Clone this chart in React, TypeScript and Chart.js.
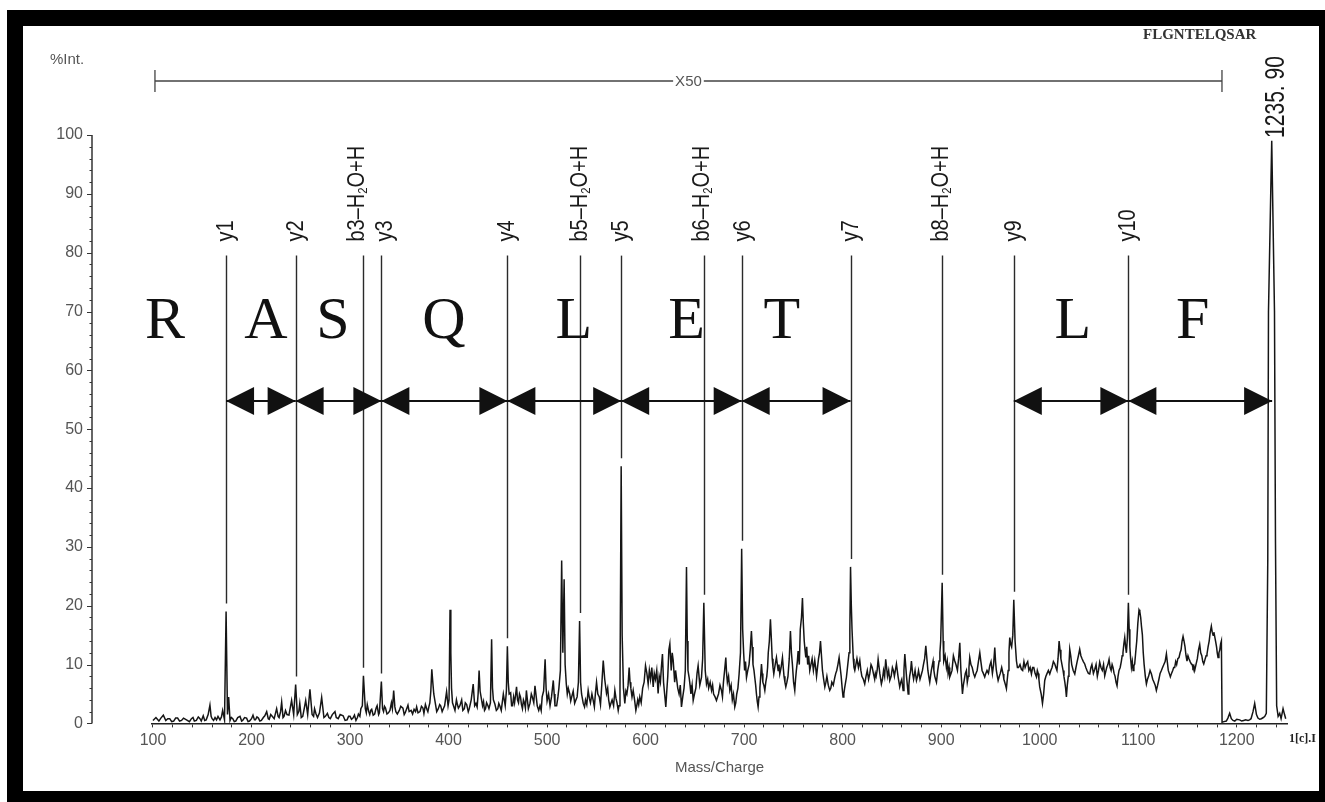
import React, { useEffect, useRef } from 'react';
import { Chart, registerables } from 'chart.js';

Chart.register(...registerables);

// ---------- spectrum (m/z, %intensity); 100–1185 is shown x50 ----------
const MZ_A = [
  100, 103, 106, 108, 110.5, 113, 115, 117, 119, 121,
  123, 125, 127, 129, 131, 134, 137, 139, 140.6, 142,
  144, 146, 147.7, 149, 151, 152.5, 154, 156, 157.8, 159,
  160, 161.5, 163, 164.5, 166, 168, 169.5, 170.7, 172.6, 174.2,
  175.6, 176.8, 178.2, 179.5, 181, 182.5, 184, 186, 188.3, 190,
  191, 193, 195, 196.5, 198, 200, 201.5, 203, 204, 205.5,
  207, 208.5, 210, 212, 213.5, 215.4, 217, 218, 219.5, 221,
  223, 225.5, 227, 228, 229.5, 230.6, 232, 233, 234.5, 236,
  238, 240.7, 242.8, 244.8, 246.5, 248, 249, 250.5, 252, 253.5,
  255, 257, 259.3, 261.5, 263, 264, 265.5, 267, 269, 271.2,
  273.5, 275, 277, 278.5, 280, 282, 284.7, 286, 288, 290,
  293, 295, 297, 298.5,
];
const INT_A = [
  0.5, 1.0, 0.4, 0.9, 1.4, 0.5, 0.8, 0.8, 0.3, 0.4,
  0.9, 0.9, 0.4, 0.5, 0.9, 0.6, 0.3, 0.8, 1.0, 0.4,
  0.5, 1.1, 0.8, 0.4, 1.3, 0.5, 0.6, 1.5, 3.1, 1.2,
  0.8, 0.5, 1.0, 0.6, 1.2, 0.6, 1.1, 2.2, 0.6, 19.0,
  1.5, 4.5, 0.5, 1.0, 0.8, 0.3, 0.4, 1.0, 1.2, 0.4,
  0.5, 1.0, 0.9, 0.3, 0.4, 0.8, 1.4, 0.6, 0.6, 1.1,
  0.9, 0.4, 0.5, 1.0, 1.3, 2.0, 0.8, 0.7, 1.5, 1.2,
  0.8, 2.5, 1.2, 1.0, 2.0, 3.6, 1.0, 1.2, 2.2, 1.5,
  1.4, 3.9, 1.5, 6.6, 1.5, 2.0, 3.4, 1.0, 1.2, 2.5,
  3.9, 1.5, 5.8, 1.5, 1.2, 2.5, 1.6, 1.0, 1.8, 4.4,
  1.0, 1.2, 1.7, 1.0, 0.8, 1.5, 2.0, 1.0, 0.8, 1.5,
  1.3, 0.5, 0.6, 1.2,
];

const MZ_B = [
  300, 301.5, 303, 304.5, 306, 307.5, 308.5, 310, 311, 312.5,
  313.6, 315.5, 316.5, 317.5, 319, 320, 321, 322, 323.5, 325,
  326.5, 327.5, 329, 329.8, 331.8, 333, 334, 335, 336, 337.5,
  339, 340.5, 342, 343, 344.3, 345.5, 346.5, 348, 350, 351.5,
  353.7, 355, 356, 357.5, 358.8, 360, 362, 363.5, 365, 366.5,
  367.6, 369, 371, 372.5, 374, 375, 376.5, 378, 379, 380,
  381, 382, 383, 384, 385, 386.5, 388, 389.6, 391, 392,
  393.5, 394.7, 396, 398, 399.5, 400.5, 401.5, 402.3, 403, 404,
  405, 406.5, 408, 409, 410, 411.5, 413.3, 414.5, 416, 417,
  418.4, 420, 421, 423, 425, 426.5, 427.8, 429, 430, 431,
  432, 433, 434.5, 435.5, 436.5, 437.5, 438.6, 440, 441, 442.5,
  443.7, 444.6, 445.5, 447, 448.5, 450,
];
const INT_B = [
  1.2, 0.7, 0.9, 1.4, 0.5, 1.0, 1.6, 1.2, 2.5, 3.0,
  8.1, 2.5, 1.8, 3.2, 2.0, 1.5, 2.2, 2.4, 1.4, 1.6,
  2.6, 3.0, 1.5, 1.8, 7.1, 2.5, 2.0, 2.9, 2.6, 1.6,
  1.8, 2.2, 3.5, 2.5, 5.6, 2.8, 2.0, 1.6, 2.2, 2.9,
  2.6, 1.5, 1.8, 2.5, 3.1, 2.0, 2.2, 1.6, 2.4, 2.0,
  2.8, 1.8, 2.0, 2.9, 2.6, 1.7, 3.2, 2.4, 2.0, 2.8,
  3.5, 5.5, 9.2, 7.0, 5.0, 3.5, 2.0, 2.5, 3.2, 3.0,
  2.0, 2.5, 3.0, 5.4, 3.0, 4.0, 19.3, 12.0, 6.0, 3.5,
  3.0, 2.2, 4.0, 3.2, 2.6, 3.0, 4.0, 2.2, 2.5, 3.5,
  3.2, 2.0, 2.5, 4.0, 6.7, 3.0, 3.4, 2.8, 5.0, 9.0,
  5.5, 4.5, 3.0, 3.7, 2.2, 2.5, 3.5, 3.0, 2.5, 3.5,
  14.3, 6.0, 4.0, 3.3, 2.2, 2.5,
];

const MZ_C = [
  451, 452, 453.5, 455.6, 457.5, 458.7, 459.7, 460.6, 461.5, 463,
  464, 465, 466, 467, 468, 469, 470, 471, 472, 473,
  474, 475, 476, 477, 478, 479, 480, 481, 482.6, 484,
  485, 486.5, 487.7, 489, 490, 491.5, 492.8, 494, 495, 496.5,
  498, 499, 500, 501.5, 503, 504.5, 506.3, 507.2, 508, 509.7,
  511, 512, 513.5, 514.8, 516, 517.3, 518.3, 519.5, 520.5, 521.5,
  523, 524, 525, 526.5, 528, 529.3, 530.5, 531.8, 533, 534,
  535, 536.7, 538, 539, 540.3, 541.7, 543, 544, 545.5, 546.8,
  548, 549, 550.2, 551.5, 553, 554.2, 555.5, 557, 558.5, 560.3,
  561.5, 562.5, 563.7, 565, 566, 567.5, 568.8, 570, 571, 572.2,
  573, 574, 575.2, 576.2, 577.5, 578.9, 580, 581, 582.2, 583.3,
  584.2, 585, 586.2, 587.4, 588.8, 590.1, 591, 592, 593, 594.1,
  595.5, 597, 598.5, 599.9,
];
const INT_C = [
  3.4, 3.0, 2.2, 5.0, 3.0, 5.5, 13.1, 7.0, 5.0, 5.2,
  3.0, 3.0, 4.5, 3.5, 4.8, 6.2, 4.0, 3.5, 5.0, 4.5,
  3.2, 2.5, 4.0, 3.5, 2.6, 5.6, 4.0, 2.5, 3.4, 5.0,
  4.5, 3.5, 6.4, 4.5, 3.0, 2.2, 3.0, 2.2, 4.5, 5.5,
  10.9, 6.0, 3.8, 5.0, 3.0, 4.5, 7.3, 5.0, 3.0, 3.0,
  4.5, 6.0, 9.0, 27.7, 12.0, 24.5, 10.0, 6.7, 5.0, 6.0,
  5.0, 3.8, 4.5, 5.5, 3.4, 4.0, 4.5, 7.0, 17.4, 7.0,
  5.0, 3.4, 2.8, 4.0, 3.2, 5.6, 4.2, 3.5, 5.0, 3.9,
  2.8, 5.0, 7.0, 5.0, 4.5, 3.2, 6.5, 10.7, 7.5, 5.1,
  6.0, 4.0, 2.8, 3.5, 4.0, 3.0, 5.6, 4.2, 3.5, 2.2,
  3.0, 6.0, 43.7, 15.0, 6.0, 3.4, 5.5, 5.0, 6.5, 9.5,
  7.0, 6.0, 4.5, 5.6, 4.0, 2.2, 3.0, 4.0, 3.2, 4.5,
  3.5, 6.0, 7.0, 9.8,
];

const MZ_D = [
  601.3, 602.6, 603.8, 605, 606.3, 607.7, 608.8, 610, 611.3, 612.7,
  613.8, 615, 616, 617.1, 618.2, 619.3, 620.5, 621.5, 622.5, 623.6,
  624.6, 626, 627, 628, 629.5, 630.4, 631.3, 632.6, 634, 635.2,
  636.4, 637.7, 639, 640.3, 641.5, 642.3, 643, 644.2, 645.1, 646,
  647.2, 648.3, 649.6, 651, 652.2, 653.3, 655, 656.7, 657.9, 659.1,
  660.5, 661.8, 663, 664, 665.5, 666.9, 668, 669, 670.5, 671.9,
  673, 674, 675.5, 677, 678, 679, 680.2, 681.4, 682.2, 683,
  684.2, 685.5, 686.8, 688, 689.2, 690.5, 691.5, 692.5, 693.7, 694.9,
  696.3, 697.5, 698.5, 699.5, 700.5, 701.4, 702.4, 703.7, 705, 706.2,
  707.4, 708.2, 709, 710, 710.8, 711.7, 712.5, 713.3, 714.2, 715.1,
  716, 716.8, 717.6, 718.3, 719, 720, 721, 722, 723, 723.8,
  724.5, 725.6, 726.7, 727.6, 728.5, 729.3, 730.1, 731.5, 732.8, 733.7,
  734.5, 735.3, 736.2, 737.5, 738.9, 739.7, 740.5, 741.4, 742.3, 743.4,
  744.5, 745.8, 747, 748, 749,
];
const INT_D = [
  8.5, 6.7, 9.0, 7.5, 9.5, 6.2, 8.5, 7.5, 9.0, 5.1,
  8.0, 7.0, 9.5, 11.8, 7.0, 5.0, 2.8, 5.5, 8.0, 12.5,
  13.5, 9.0, 12.0, 10.7, 7.0, 9.0, 7.8, 6.0, 5.0, 6.5,
  2.8, 4.5, 6.0, 9.0, 26.6, 14.0, 9.0, 7.8, 6.5, 5.0,
  6.5, 3.9, 5.0, 6.0, 8.5, 9.8, 6.5, 7.8, 11.0, 20.5,
  9.0, 6.7, 7.5, 6.0, 7.0, 5.6, 6.5, 5.0, 4.5, 3.9,
  4.5, 5.0, 6.5, 5.6, 4.5, 7.0, 9.0, 11.2, 8.5, 7.0,
  8.0, 5.6, 6.5, 4.0, 5.0, 2.8, 3.5, 5.0, 6.0, 8.4,
  12.0, 29.7, 16.0, 12.0, 9.0, 10.5, 7.8, 9.0, 10.0, 12.5,
  15.7, 13.0, 10.0, 9.0, 7.8, 6.5, 5.0, 3.8, 2.8, 4.5,
  6.0, 8.0, 10.1, 8.5, 7.0, 6.5, 5.6, 7.0, 8.0, 9.5,
  12.0, 14.0, 17.7, 14.5, 11.0, 9.5, 8.4, 10.0, 11.2, 10.0,
  9.0, 10.0, 8.4, 9.5, 11.2, 9.5, 8.0, 7.0, 6.2, 7.0,
  8.0, 11.0, 15.7, 12.0, 10.0,
];

const MZ_E = [
  750.2, 751.4, 752.2, 753, 754, 754.8, 756, 757, 758.2, 759.2,
  760.1, 761, 761.8, 762.6, 763.5, 764.5, 765.5, 766.6, 767.8, 769,
  770.3, 771.7, 772.6, 773.5, 774.5, 775.5, 776.5, 777.5, 778.5, 779.5,
  780.7, 781.9, 783, 784, 785.4, 786.9, 788, 789, 790.5, 792,
  793, 794, 795.2, 796.4, 797.5, 798.5, 799.5, 800.4, 801.2, 802,
  803, 803.8, 805.2, 806.5, 807.3, 808, 808.8, 809.5, 810.8, 811.5,
  812.3, 813.4, 814.5, 816, 817.4, 818.5, 819.5, 821, 822.4, 823.7,
  825, 826.3, 827.5, 828.8, 830, 831.2, 832.5, 833.2, 834, 835,
  836, 837.7, 839.3, 840.4, 841.5, 842.6, 843.7, 844.6, 845.5, 846.7,
  847.8, 849.2, 850.5, 851.5, 852.5, 853.5, 854.6, 856.2, 857.9, 859,
  860, 861.4, 862.2, 863.1, 864.8, 866.5, 867.2, 868, 869, 869.8,
  871, 872, 873.5, 874.9, 876, 877, 878.5, 880, 881, 882,
  883.2, 884.4, 885.5, 886.5, 887.4, 888.4, 890, 891.8, 892.6, 893.5,
  894.3, 895.2, 896.5, 897.9, 898.7, 899.5,
];
const INT_E = [
  7.0, 5.6, 7.5, 9.0, 10.5, 12.3, 10.0, 16.0, 18.0, 21.3,
  17.0, 14.0, 12.5, 11.2, 13.0, 10.0, 11.5, 9.0, 10.0, 11.0,
  9.0, 10.7, 9.5, 8.0, 9.5, 11.0, 12.0, 14.0, 11.5, 9.0,
  7.5, 6.2, 7.0, 8.0, 6.5, 5.6, 6.0, 7.0, 6.5, 7.8,
  8.5, 9.0, 10.0, 11.2, 9.5, 8.0, 6.0, 4.5, 5.0, 6.0,
  7.0, 7.8, 10.0, 12.0, 16.0, 26.6, 20.0, 16.0, 11.0, 9.5,
  9.0, 10.0, 11.0, 9.5, 10.7, 9.0, 8.0, 7.5, 6.7, 8.0,
  9.0, 7.5, 8.4, 10.0, 9.5, 8.5, 7.5, 8.5, 8.0, 9.0,
  10.9, 8.5, 6.7, 7.5, 9.0, 8.0, 10.9, 9.5, 8.0, 9.0,
  7.3, 8.0, 9.5, 9.0, 8.0, 9.0, 10.1, 8.0, 6.2, 7.0,
  7.5, 5.6, 9.0, 11.8, 8.0, 5.0, 6.5, 8.0, 9.0, 10.6,
  8.5, 7.5, 9.0, 7.3, 8.0, 9.0, 7.5, 8.4, 9.0, 10.0,
  11.0, 13.2, 11.0, 9.0, 8.0, 7.0, 9.0, 10.6, 9.0, 8.0,
  7.5, 7.0, 9.0, 10.6, 12.0, 14.0,
];

const MZ_F = [
  901, 902, 902.6, 904, 905.3, 906.2, 907, 908, 908.7, 910,
  911, 912.4, 913.8, 915, 916.5, 917.7, 918.9, 920, 921.6, 922.5,
  923.5, 924.5, 925.6, 926.5, 927.5, 928.2, 929, 930.2, 931.5, 932.8,
  934.1, 935.3, 936.5, 937.8, 939.2, 940.3, 941.5, 942.8, 944.2, 945.3,
  946.5, 948, 949.3, 950.6, 952, 953.2, 954.4, 955.2, 956, 957,
  957.8, 959, 960, 961.4, 962.8, 963.6, 964.5, 965.3, 966.2, 967.1,
  968, 968.8, 969.6, 970.5, 971.5, 972.7, 973.7, 975, 976.4, 977.4,
  978.5, 980, 981.4, 982.7, 984, 985.2, 986.5, 987.8, 989, 990.3,
  991.6, 992.8, 994, 995.3, 996.7, 997.6, 998.5, 999.2, 1000, 1001.5,
  1002.8, 1004, 1005.1, 1006.3, 1007.5, 1008.8, 1010.2, 1011.3, 1012.5, 1013.9,
  1015.3, 1016.4, 1017.5, 1018.6, 1019.7, 1020.6, 1021.5, 1022.6, 1023.7, 1024.6,
  1025.5, 1026.3, 1027.1, 1028, 1029, 1029.7, 1030.5, 1031.5, 1032.5, 1034,
  1035.6, 1036.8, 1038, 1039.3, 1040.6, 1041.8, 1043, 1044.3, 1045.7, 1046.8,
  1048, 1049.4,
];
const INT_F = [
  23.9, 14.0, 10.6, 11.5, 9.5, 10.5, 8.5, 9.5, 7.9, 8.5,
  9.0, 11.5, 10.6, 10.0, 9.0, 11.0, 13.7, 9.0, 5.0, 6.5,
  7.5, 8.5, 9.0, 7.0, 8.0, 9.5, 11.2, 10.0, 9.5, 8.5,
  7.9, 8.5, 9.0, 10.5, 12.0, 10.5, 9.0, 8.5, 7.9, 8.5,
  9.0, 8.5, 9.8, 10.5, 8.5, 10.0, 12.9, 10.5, 9.0, 8.0,
  7.3, 8.0, 8.5, 9.5, 8.4, 7.5, 7.0, 6.5, 5.9, 7.5,
  9.0, 12.0, 14.6, 13.5, 13.0, 15.0, 21.0, 14.0, 10.6, 9.5,
  9.5, 10.0, 9.2, 9.0, 10.5, 9.5, 10.1, 10.5, 9.0, 9.5,
  8.4, 9.5, 9.5, 8.5, 7.9, 9.0, 8.5, 7.5, 6.2, 5.0,
  3.4, 5.0, 7.3, 8.0, 8.5, 9.0, 8.4, 9.0, 9.5, 10.5,
  10.1, 9.5, 9.0, 11.0, 14.0, 12.5, 11.0, 10.0, 9.0, 8.0,
  7.0, 6.0, 4.5, 6.5, 8.0, 10.0, 12.6, 11.5, 10.0, 9.0,
  8.4, 9.5, 10.5, 11.5, 12.6, 11.5, 11.0, 10.5, 10.1, 9.5,
  9.0, 8.5,
];

const MZ_G = [
  1050.8, 1052, 1053, 1054.5, 1055.9, 1057.2, 1058.5, 1059.7, 1060.9, 1062.2,
  1063.5, 1064.8, 1066, 1067, 1068, 1069.2, 1070.4, 1071.5, 1072.5, 1073.5,
  1074.4, 1075.5, 1076.5, 1077.5, 1078.5, 1079.5, 1080.5, 1081.7, 1082.9, 1083.7,
  1084.5, 1085.4, 1086.3, 1087.2, 1088, 1089, 1090, 1090.8, 1091.5, 1092.3,
  1093.1, 1094, 1094.8, 1095.6, 1096.4, 1097.4, 1098.5, 1099.6, 1100.8, 1101.6,
  1102.5, 1103.3, 1104.2, 1105.1, 1106, 1107.2, 1108.3, 1109.4, 1110.5, 1112,
  1113.4, 1114.7, 1116, 1117.2, 1118.4, 1119.7, 1121, 1122.2, 1123.5, 1124.7,
  1126, 1127.3, 1128.6, 1129.5, 1130.5, 1131.5, 1132.6, 1133.8, 1135, 1136,
  1137, 1138, 1139, 1140.2, 1141.4, 1142.5, 1143.5, 1144.5, 1145.5, 1146.5,
  1147.5, 1148.5, 1149.5, 1150.5, 1151.5, 1152.7, 1153.9, 1154.7, 1155.5, 1156.4,
  1157.3, 1158.6, 1160, 1161.2, 1162.4, 1163.4, 1164.5, 1165.5, 1166.5, 1167.2,
  1168, 1168.9, 1169.8, 1170.9, 1172, 1173.1, 1174.2, 1175.1, 1176, 1176.8,
  1177.6, 1178.5, 1179.5, 1180.2, 1181, 1181.9, 1182.8, 1183.6, 1184.4,
];
const INT_G = [
  8.4, 9.5, 10.0, 8.5, 9.2, 10.0, 8.0, 9.0, 10.4, 9.5,
  9.0, 10.0, 8.1, 8.8, 9.5, 10.0, 10.9, 9.5, 9.0, 10.0,
  9.5, 8.5, 8.0, 7.0, 6.4, 8.0, 9.0, 9.5, 10.6, 11.5,
  12.0, 13.5, 14.6, 13.0, 12.0, 14.5, 20.5, 16.0, 13.0, 11.0,
  9.5, 10.5, 9.0, 9.8, 10.1, 12.0, 14.0, 17.0, 19.3, 19.0,
  18.0, 16.5, 15.1, 12.0, 10.0, 8.0, 6.7, 7.5, 8.0, 9.0,
  8.4, 7.5, 7.0, 6.5, 5.6, 6.5, 7.5, 8.5, 9.0, 9.5,
  10.0, 10.5, 11.8, 10.5, 9.0, 8.5, 7.9, 8.5, 9.0, 9.5,
  9.5, 10.5, 10.0, 11.0, 11.2, 12.0, 12.5, 14.0, 14.8, 14.0,
  13.0, 11.5, 10.6, 11.5, 11.0, 10.5, 10.1, 10.0, 9.5, 9.8,
  9.0, 10.0, 11.0, 12.5, 13.4, 12.0, 11.5, 10.5, 10.1, 10.5,
  11.0, 11.5, 11.8, 13.0, 14.0, 15.5, 16.5, 15.5, 15.0, 15.5,
  14.8, 14.0, 13.0, 12.0, 11.2, 12.0, 12.5, 13.5, 14.0,
];

// unscaled region (x1) with the precursor
const MZ_H = [
  1185.1, 1187, 1189.4, 1191, 1192.8, 1194.5, 1196.2, 1198, 1200, 1203,
  1205, 1207, 1209, 1211.4, 1213, 1214.5, 1216.5, 1218.2, 1220, 1221.5,
  1223.3, 1225, 1227, 1228.5, 1230, 1231.5, 1232.2, 1235.5, 1238.3, 1239.3,
  1240.5, 1242, 1243.6, 1245, 1247, 1248.5, 1249.7,
];
const INT_H = [
  0.2, 0.3, 0.4, 0.9, 1.7, 0.8, 0.5, 0.4, 0.7, 0.6,
  0.4, 0.5, 0.6, 0.5, 0.6, 0.8, 2.0, 3.4, 1.5, 0.9,
  0.7, 0.8, 1.0, 1.2, 1.7, 28, 70, 99, 70, 31,
  3, 1.2, 1.7, 0.8, 2.5, 1.5, 0.8,
];

const MZ = [...MZ_A, ...MZ_B, ...MZ_C, ...MZ_D, ...MZ_E, ...MZ_F, ...MZ_G, ...MZ_H];
const INTENSITY = [...INT_A, ...INT_B, ...INT_C, ...INT_D, ...INT_E, ...INT_F, ...INT_G, ...INT_H];

// ---------- axes ----------
const X_MIN = 99;
const X_MAX = 1251;
const X_TICK_LABELS = [100, 200, 300, 400, 500, 600, 700, 800, 900, 1000, 1100, 1200];
const X_MINOR_STEP = 20;
const Y_TICK_LABELS = [0, 10, 20, 30, 40, 50, 60, 70, 80, 90, 100];
const Y_MINOR_STEP = 2;
const X_TITLE = 'Mass/Charge';
const Y_TITLE = '%Int.';

// ---------- annotations ----------
const ION_LABELS = ['y1', 'y2', 'b3–H₂O+H', 'y3', 'y4', 'b5–H₂O+H', 'y5', 'b6–H₂O+H', 'y6', 'y7', 'b8–H₂O+H', 'y9', 'y10'];
const ION_MZ = [174.2, 244.8, 313.6, 331.8, 459.7, 533, 575.2, 659.1, 697.5, 808, 901, 973.7, 1090];
const ION_LABEL_NUDGE = [0, 0, -6, 4, 0, 0, 0, -2, 1, 0, -1, 0, 0];
const PRECURSOR_MZ = 1235.9;
const PRECURSOR_LABEL = '1235. 90';
const RESIDUES = ['R', 'A', 'S', 'Q', 'L', 'E', 'T', 'L', 'F'];
const RESIDUE_MZ = [112.2, 214.7, 282.7, 395.3, 527.2, 641.5, 738.3, 1033.6, 1155.3];
// spans between ion indexes (-1 = precursor)
const ARROW_SPANS: [number, number][] = [[0, 1], [1, 3], [3, 4], [4, 6], [6, 8], [8, 9], [11, 12], [12, -1]];
const X50_RANGE = [102, 1185];
const X50_TEXT = 'X50';
const SEQUENCE = 'FLGNTELQSAR';
const CORNER_TEXT = '1[c].I';

const ANN_TOP = 79.5;
const ARROW_LEVEL = 54.8;
const RESIDUE_BASE = 65.5;

const SANS = '"Liberation Sans", Arial, Helvetica, sans-serif';
const SERIF = '"Liberation Serif", "Times New Roman", serif';

function peakAt(mz: number): number {
  let best = 0;
  for (let i = 0; i < MZ.length; i++) {
    if (Math.abs(MZ[i] - mz) <= 1.5) best = Math.max(best, INTENSITY[i]);
  }
  return best;
}

function drawRotatedLabel(ctx: CanvasRenderingContext2D, x: number, bottom: number, text: string, size: number, along: number) {
  ctx.save();
  ctx.translate(x, bottom);
  ctx.rotate(-Math.PI / 2);
  ctx.scale(along, 1);
  ctx.textAlign = 'left';
  ctx.textBaseline = 'middle';
  let cx = 0;
  const parts = text.split('₂');
  parts.forEach((p, i) => {
    ctx.font = `${size}px ${SANS}`;
    ctx.fillText(p, cx, 0);
    cx += ctx.measureText(p).width;
    if (i < parts.length - 1) {
      ctx.font = `${Math.round(size * 0.55)}px ${SANS}`;
      ctx.fillText('2', cx, size * 0.25);
      cx += ctx.measureText('2').width;
    }
  });
  ctx.restore();
}

const framePlugin = {
  id: 'frame',
  beforeDraw(chart: any) {
    const { ctx, width, height } = chart;
    ctx.save();
    ctx.fillStyle = '#ffffff';
    ctx.fillRect(0, 0, width, height);
    ctx.fillStyle = '#000000';
    ctx.fillRect(7, 10, width - 7, height - 10);
    ctx.fillStyle = '#ffffff';
    ctx.fillRect(23, 26, 1319 - 23, 791 - 26);
    ctx.restore();
  },
};

const annotationPlugin = {
  id: 'spectrumAnnotations',
  afterDraw(chart: any) {
    const ctx: CanvasRenderingContext2D = chart.ctx;
    const xs = chart.scales.x;
    const ys = chart.scales.y;
    const px = (v: number) => xs.getPixelForValue(v);
    const py = (v: number) => ys.getPixelForValue(v);
    ctx.save();

    // detached y axis
    const ax = 92;
    ctx.strokeStyle = '#333';
    ctx.lineWidth = 1.5;
    ctx.beginPath();
    ctx.moveTo(ax, py(0));
    ctx.lineTo(ax, py(100));
    ctx.stroke();
    ctx.lineWidth = 1;
    for (let v = 0; v <= 100; v += Y_MINOR_STEP) {
      const isMajor = Y_TICK_LABELS.includes(v);
      const len = isMajor ? 5 : 2.5;
      const y = Math.round(py(v)) + 0.5;
      ctx.beginPath();
      ctx.moveTo(ax - len, y);
      ctx.lineTo(ax, y);
      ctx.stroke();
    }

    // y title
    ctx.fillStyle = '#555';
    ctx.font = `15px ${SANS}`;
    ctx.textAlign = 'left';
    ctx.textBaseline = 'alphabetic';
    ctx.fillText(Y_TITLE, 50, 64);

    // sequence + corner text
    ctx.fillStyle = '#333';
    ctx.font = `bold 15px ${SERIF}`;
    ctx.fillText(SEQUENCE, 1143, 39);
    ctx.fillStyle = '#222';
    ctx.font = `bold 12px ${SERIF}`;
    ctx.fillText(CORNER_TEXT, 1289, 742);

    // X50 bracket
    const bx1 = px(X50_RANGE[0]);
    const bx2 = px(X50_RANGE[1]);
    const by = 81;
    ctx.strokeStyle = '#444';
    ctx.lineWidth = 1.3;
    ctx.beginPath();
    ctx.moveTo(bx1, by); ctx.lineTo(bx2, by);
    ctx.moveTo(bx1, by - 11); ctx.lineTo(bx1, by + 11);
    ctx.moveTo(bx2, by - 11); ctx.lineTo(bx2, by + 11);
    ctx.stroke();
    ctx.font = `15px ${SANS}`;
    const tw = ctx.measureText(X50_TEXT).width;
    const mid = (bx1 + bx2) / 2;
    ctx.fillStyle = '#fff';
    ctx.fillRect(mid - tw / 2 - 2, by - 8, tw + 4, 16);
    ctx.fillStyle = '#555';
    ctx.textAlign = 'center';
    ctx.textBaseline = 'middle';
    ctx.fillText(X50_TEXT, mid, by + 1);

    // ion lines and labels
    const topY = py(ANN_TOP);
    ctx.strokeStyle = '#2a2a2a';
    ctx.lineWidth = 1.4;
    ION_MZ.forEach((mz, i) => {
      const x = Math.round(px(mz)) + 0.5;
      const peakY = py(peakAt(mz));
      ctx.beginPath();
      ctx.moveTo(x, topY);
      ctx.lineTo(x, Math.max(topY, peakY - 8));
      ctx.stroke();
      ctx.fillStyle = '#1a1a1a';
      drawRotatedLabel(ctx, x + ION_LABEL_NUDGE[i], topY - 14, ION_LABELS[i], 23, 0.87);
    });

    // precursor label
    const pX = px(PRECURSOR_MZ);
    const pTop = py(peakAt(PRECURSOR_MZ));
    ctx.fillStyle = '#1a1a1a';
    drawRotatedLabel(ctx, pX + 4, pTop - 3, PRECURSOR_LABEL, 28, 0.75);

    // arrows
    const ay = py(ARROW_LEVEL);
    const HL = 28;
    const HH = 14;
    ctx.fillStyle = '#111';
    ctx.strokeStyle = '#111';
    ctx.lineWidth = 2;
    ARROW_SPANS.forEach(([a, b]) => {
      const x1 = px(ION_MZ[a]);
      const x2 = px(b < 0 ? PRECURSOR_MZ : ION_MZ[b]);
      ctx.beginPath();
      ctx.moveTo(x1, ay); ctx.lineTo(x2, ay);
      ctx.stroke();
      ctx.beginPath();
      ctx.moveTo(x1, ay); ctx.lineTo(x1 + HL, ay - HH); ctx.lineTo(x1 + HL, ay + HH); ctx.closePath();
      ctx.fill();
      ctx.beginPath();
      ctx.moveTo(x2, ay); ctx.lineTo(x2 - HL, ay - HH); ctx.lineTo(x2 - HL, ay + HH); ctx.closePath();
      ctx.fill();
    });

    // residues
    ctx.fillStyle = '#111';
    ctx.font = `60px ${SERIF}`;
    ctx.textAlign = 'center';
    ctx.textBaseline = 'alphabetic';
    RESIDUES.forEach((r, i) => {
      ctx.fillText(r, px(RESIDUE_MZ[i]), py(RESIDUE_BASE));
    });

    ctx.restore();
  },
};

export default function App() {
  const ref = useRef<HTMLCanvasElement>(null);
  useEffect(() => {
    if (!ref.current) return;
    const points = MZ.map((m, i) => ({ x: m, y: INTENSITY[i] }));
    const xTicks: number[] = [];
    for (let v = X_TICK_LABELS[0]; v <= 1240; v += X_MINOR_STEP) xTicks.push(v);
    const chart = new Chart(ref.current, {
      type: 'line',
      data: {
        datasets: [
          {
            data: points,
            borderColor: '#151515',
            borderWidth: 1.5,
            pointRadius: 0,
            tension: 0,
            fill: false,
          },
        ],
      },
      options: {
        responsive: false,
        animation: false,
        events: [],
        layout: { padding: { top: 135, right: 38, bottom: 0, left: 0 } },
        plugins: { legend: { display: false }, tooltip: { enabled: false }, title: { display: false } },
        scales: {
          x: {
            type: 'linear',
            min: X_MIN,
            max: X_MAX,
            border: { display: true, color: '#222', width: 1.5 },
            grid: { display: true, drawOnChartArea: false, drawTicks: true, tickLength: 4, color: '#333' },
            afterBuildTicks: (s: any) => {
              s.ticks = xTicks.map((v) => ({ value: v }));
            },
            afterFit: (s: any) => {
              s.height = 72;
            },
            ticks: {
              autoSkip: false,
              maxRotation: 0,
              padding: 4,
              color: '#555',
              font: { size: 16, family: SANS },
              callback: (v: any) => (X_TICK_LABELS.includes(Number(v)) ? String(v) : ''),
            },
            title: {
              display: true,
              text: X_TITLE,
              color: '#555',
              font: { size: 15, family: SANS },
              padding: { top: 0, bottom: 19 },
            },
          },
          y: {
            type: 'linear',
            min: 0,
            max: 100,
            position: 'left',
            border: { display: false },
            grid: { display: false, drawTicks: false },
            afterBuildTicks: (s: any) => {
              s.ticks = Y_TICK_LABELS.map((v) => ({ value: v }));
            },
            afterFit: (s: any) => {
              s.width = 152;
            },
            ticks: {
              padding: 69,
              color: '#555',
              font: { size: 16, family: SANS },
            },
          },
        },
      },
      plugins: [framePlugin, annotationPlugin],
    } as any);
    return () => chart.destroy();
  }, []);
  return (
    <div style={{ position: 'absolute', left: 0, top: 0, width: 1325, height: 802, background: '#fff' }}>
      <canvas ref={ref} width={1325} height={802} style={{ display: 'block', width: 1325, height: 802 }} />
    </div>
  );
}
